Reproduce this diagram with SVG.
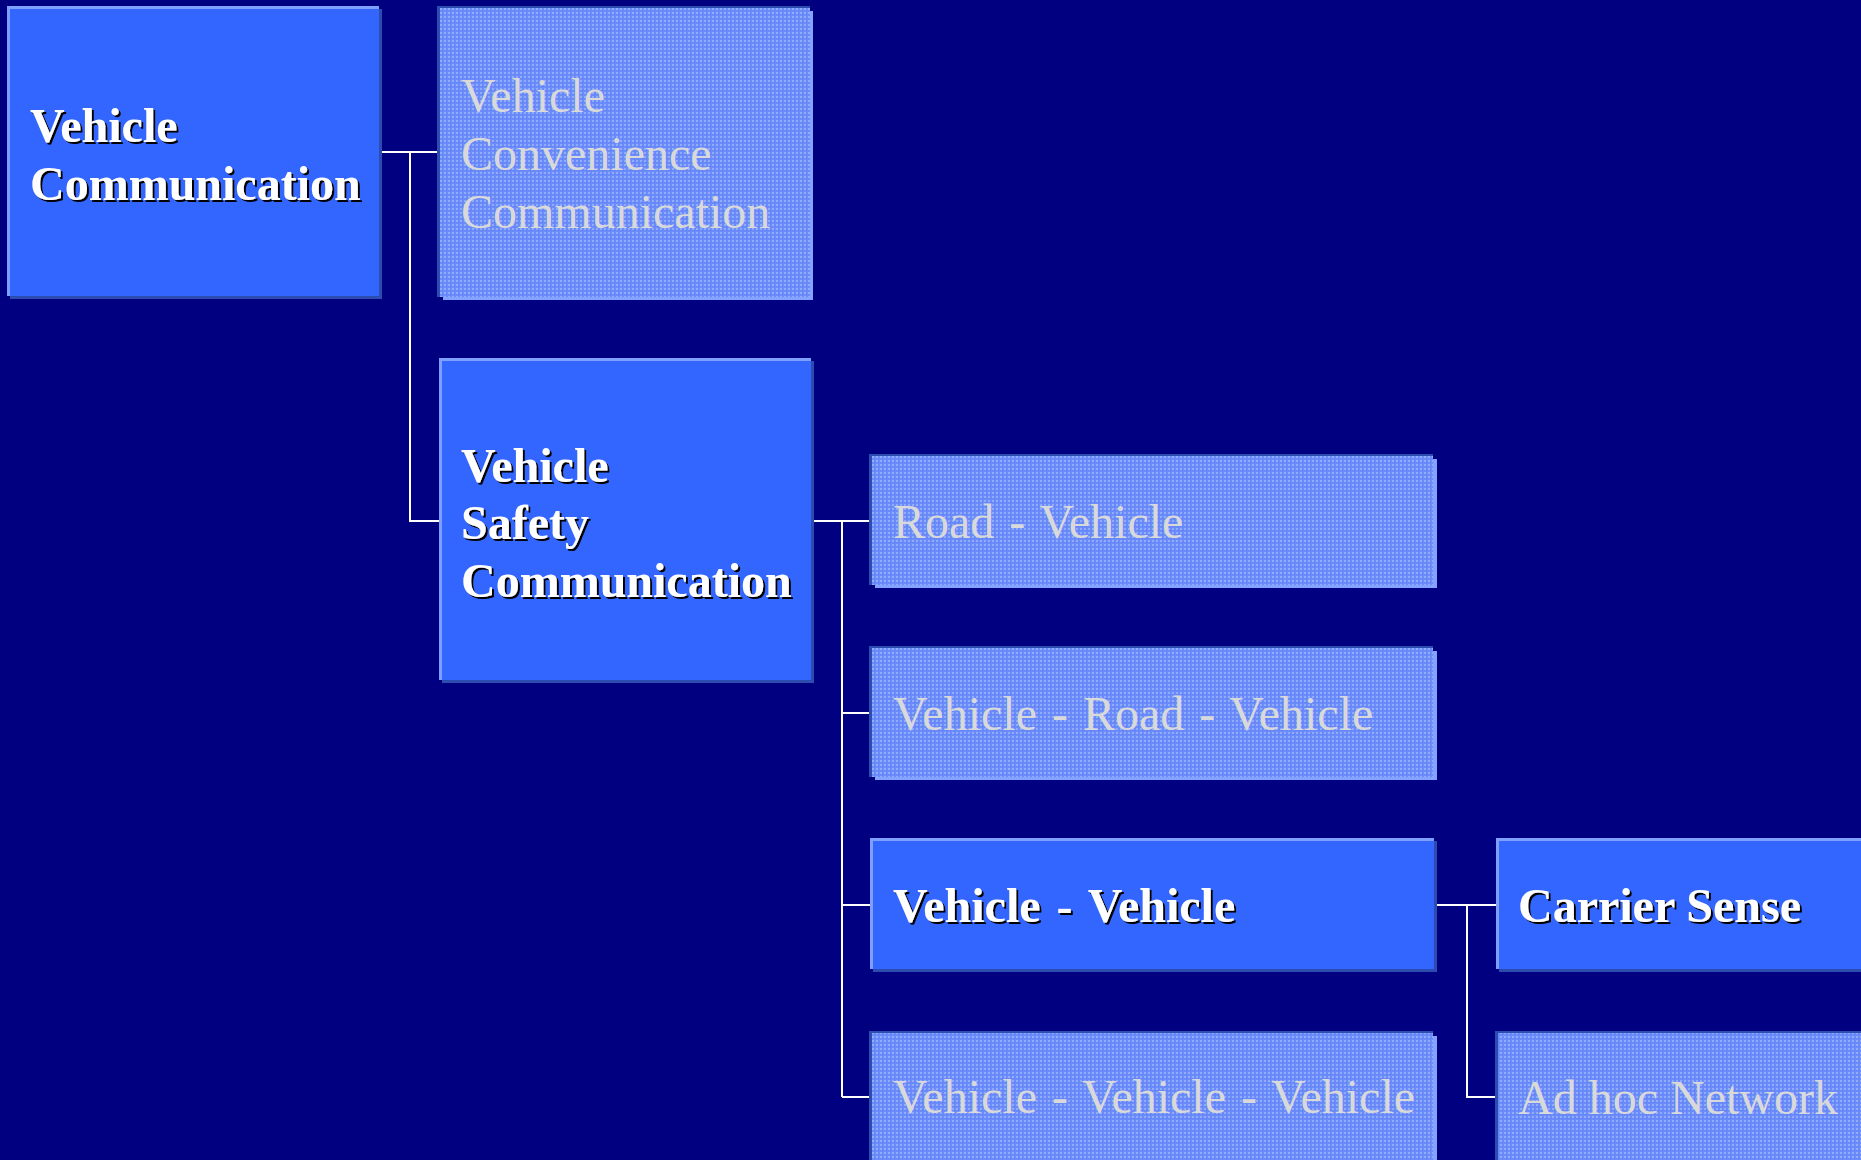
<svg xmlns="http://www.w3.org/2000/svg" width="1861" height="1160" viewBox="0 0 1861 1160">
  <defs>
    <pattern id="dither" x="0" y="0" width="4" height="4" patternUnits="userSpaceOnUse">
      <rect width="4" height="4" fill="#6b8bfb"/>
      <rect width="2" height="2" fill="#90acff"/>
      <rect x="2" y="2" width="1" height="1" fill="#5a7cf0"/>
    </pattern>
    <filter id="tshadow" x="-5%" y="-20%" width="110%" height="140%">
      <feDropShadow dx="2" dy="2" stdDeviation="0.4" flood-color="#000000" flood-opacity="1"/>
    </filter>
  </defs>
  <style>
    rect { shape-rendering: crispEdges; }
    .bg { fill: #000080; }
    .solid { fill: #3366ff; }
    .hi { fill: #7f9fff; }
    .dk { fill: #2c4cb0; }
    .pat { fill: url(#dither); }
    .lt { fill: #84a2ff; }
    .bold { font-family: "Liberation Serif", "Times New Roman", serif; font-size: 48px; font-weight: bold; fill: #ffffff; filter: url(#tshadow); }
    .reg { font-family: "Liberation Serif", "Times New Roman", serif; font-size: 48px; fill: #d9d9d9; }
    .ws3 { word-spacing: 3px; }
    .ws4 { word-spacing: 4px; }
    .conn { stroke: #ffffff; stroke-width: 2.5; fill: none; shape-rendering: crispEdges; }
  </style>

  <rect class="bg" x="0" y="0" width="1861" height="1160"/>

  <g id="connectors">
    <path class="conn" d="M382 152 H440 M410 152 V521 H440"/>
    <path class="conn" d="M814 521 H872 M842 521 V1097 M842 713 H872 M842 905 H872 M842 1097 H872"/>
    <path class="conn" d="M1437 905 H1496 M1467 905 V1097 H1496"/>
  </g>

  <g id="n-vehicle-communication">
    <rect class="dk" x="10" y="9" width="372" height="290"/>
    <rect class="hi" x="7" y="6" width="372" height="290"/>
    <rect class="solid" x="10" y="9" width="369" height="287"/>
    <text class="bold" x="30" y="142">Vehicle</text>
    <text class="bold" x="30" y="200">Communication</text>
  </g>

  <g id="n-vehicle-convenience">
    <rect class="dk" x="437" y="6" width="373" height="291"/>
    <rect class="lt" x="443" y="11" width="370" height="289"/>
    <rect class="pat" x="440" y="8" width="370" height="289"/>
    <text class="reg" x="461" y="112">Vehicle</text>
    <text class="reg" x="461" y="170">Convenience</text>
    <text class="reg" x="461" y="228">Communication</text>
  </g>

  <g id="n-vehicle-safety">
    <rect class="dk" x="442" y="361" width="372" height="322"/>
    <rect class="hi" x="439" y="358" width="372" height="322"/>
    <rect class="solid" x="442" y="361" width="369" height="319"/>
    <text class="bold" x="461" y="482">Vehicle</text>
    <text class="bold" x="461" y="539">Safety</text>
    <text class="bold" x="461" y="597">Communication</text>
  </g>

  <g id="n-road-vehicle">
    <rect class="dk" x="869" y="454" width="564" height="131"/>
    <rect class="lt" x="875" y="459" width="562" height="129"/>
    <rect class="pat" x="872" y="456" width="561" height="129"/>
    <text class="reg ws3" x="893" y="538">Road - Vehicle</text>
  </g>

  <g id="n-vehicle-road-vehicle">
    <rect class="dk" x="869" y="646" width="564" height="131"/>
    <rect class="lt" x="875" y="651" width="562" height="129"/>
    <rect class="pat" x="872" y="648" width="561" height="129"/>
    <text class="reg ws3" x="893" y="730">Vehicle - Road - Vehicle</text>
  </g>

  <g id="n-vehicle-vehicle">
    <rect class="dk" x="873" y="841" width="564" height="131"/>
    <rect class="hi" x="870" y="838" width="564" height="131"/>
    <rect class="solid" x="873" y="841" width="561" height="128"/>
    <text class="bold ws4" x="893" y="922">Vehicle - Vehicle</text>
  </g>

  <g id="n-vehicle-vehicle-vehicle">
    <rect class="dk" x="869" y="1031" width="564" height="140"/>
    <rect class="lt" x="875" y="1036" width="562" height="140"/>
    <rect class="pat" x="872" y="1033" width="561" height="140"/>
    <text class="reg ws3" x="893" y="1113">Vehicle - Vehicle - Vehicle</text>
  </g>

  <g id="n-carrier-sense">
    <rect class="dk" x="1499" y="841" width="370" height="131"/>
    <rect class="hi" x="1496" y="838" width="370" height="131"/>
    <rect class="solid" x="1499" y="841" width="370" height="128"/>
    <text class="bold" x="1518" y="922">Carrier Sense</text>
  </g>

  <g id="n-ad-hoc-network">
    <rect class="dk" x="1495" y="1031" width="370" height="140"/>
    <rect class="lt" x="1501" y="1036" width="370" height="140"/>
    <rect class="pat" x="1498" y="1033" width="370" height="140"/>
    <text class="reg" x="1518" y="1114">Ad hoc Network</text>
  </g>
</svg>
